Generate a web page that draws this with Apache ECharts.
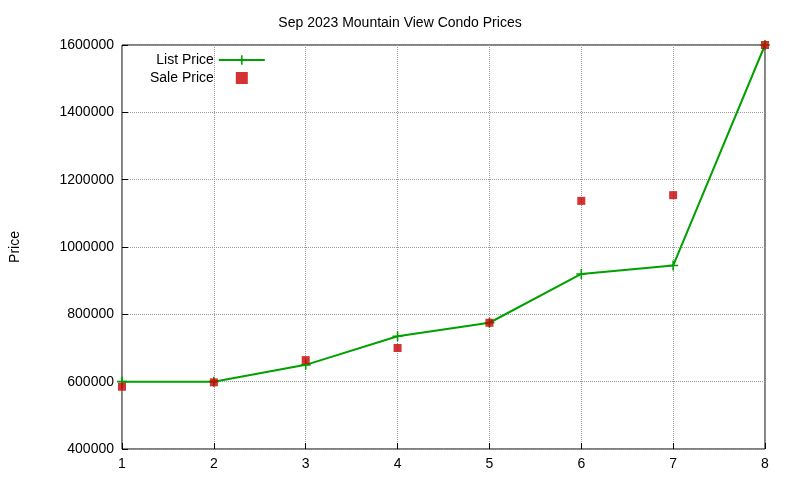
<!DOCTYPE html>
<html><head><meta charset="utf-8">
<script src="https://cdn.jsdelivr.net/npm/echarts@6/dist/echarts.min.js"></script>
<style>html,body{margin:0;padding:0;background:#fff}#c{width:800px;height:480px}</style>
</head><body><div id="c"></div>
<script>
const xs = [1,2,3,4,5,6,7,8];
const listPrice = [600000,600000,650000,735000,775000,920000,945000,1600000];
const salePrice = [585000,598000,664000,700000,775000,1137000,1154000,1600000];
const plus = 'path://M4.2,0h1.6v10h-1.6z M0,4.2h10v1.6h-10z';
const chart = echarts.init(document.getElementById('c'));
const font = 'Liberation Sans, Arial, sans-serif';
chart.setOption({
  animation:false,
  textStyle:{fontFamily:font},
  title:{text:'Sep 2023 Mountain View Condo Prices',left:'center',top:11,textStyle:{fontSize:14,fontWeight:'normal',color:'#000',fontFamily:font}},
  legend:{orient:'vertical',left:145,top:48,align:'right',itemGap:4,itemWidth:46,itemHeight:12,
    textStyle:{fontSize:14,color:'#000',fontFamily:font},
    data:[{name:'List Price'},{name:'Sale Price',icon:'path://M0,0h8v8h-8z'}]},
  grid:{left:118,right:35,top:45,bottom:31,show:true,borderColor:'#000',borderWidth:1},
  xAxis:{type:'value',min:1,max:8,interval:1,
    axisLine:{show:false},axisTick:{inside:true,length:6,lineStyle:{color:'#000'}},
    axisLabel:{color:'#000',fontSize:14,fontFamily:font,margin:8},
    splitLine:{lineStyle:{type:'dotted',color:'#999'}}},
  yAxis:{type:'value',min:400000,max:1600000,interval:200000,name:'Price',nameLocation:'middle',nameGap:100,
    nameTextStyle:{fontSize:14,color:'#000',fontFamily:font},
    axisLine:{show:false},axisTick:{show:true,inside:true,length:6,lineStyle:{color:'#000'}},
    axisLabel:{color:'#000',fontSize:14,fontFamily:font,margin:8,formatter:v=>String(v)},
    splitLine:{lineStyle:{type:'dotted',color:'#999'}}},
  series:[
    {name:'List Price',type:'line',data:xs.map((x,i)=>[x,listPrice[i]]),symbol:plus,symbolSize:10,
      itemStyle:{color:'#00a000'},lineStyle:{color:'#00a000',width:2},z:2},
    {name:'Sale Price',type:'scatter',data:xs.map((x,i)=>[x,salePrice[i]]),symbol:'rect',symbolSize:8,
      itemStyle:{color:'#c80000'},z:3}
  ]
});
</script></body></html>
